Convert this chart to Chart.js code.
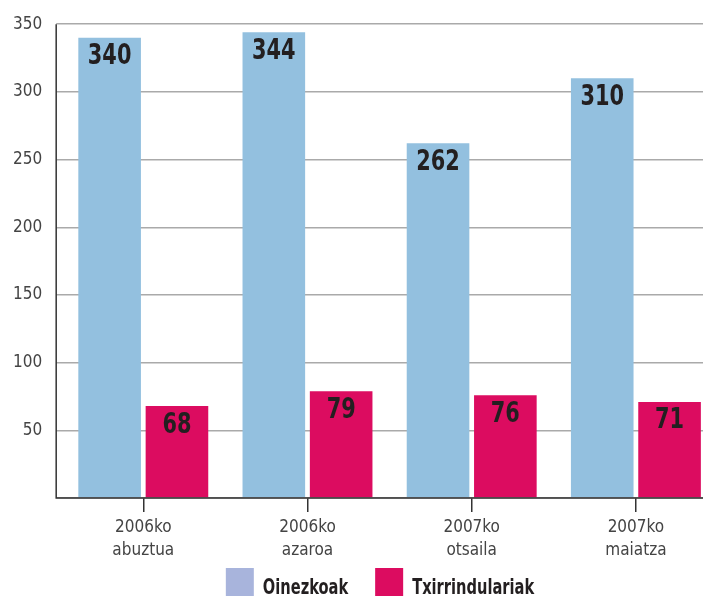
<!DOCTYPE html>
<html>
<head>
<meta charset="utf-8">
<script src="https://cdn.jsdelivr.net/npm/chart.js@4"></script>
<style>
html,body{margin:0;padding:0;background:#fff;overflow:hidden;}
#wrap{width:722px;height:596px;}
</style>
</head>
<body>
<div id="wrap"><canvas id="c" width="722" height="596"></canvas></div>
<script>
const categories = [['2006ko','abuztua'], ['2006ko','azaroa'], ['2007ko','otsaila'], ['2007ko','maiatza']];
const seriesNames = ['Oinezkoak', 'Txirrindulariak'];
const oinezkoak = [340, 344, 262, 310];
const txirrindulariak = [68, 79, 76, 71];
const yTicks = [0, 50, 100, 150, 200, 250, 300, 350];

const FONT = "'Liberation Sans Narrow', 'DejaVu Sans Condensed', 'DejaVu Sans', sans-serif";
const barColors = ['#93c0df', '#dc0c60'];
const legendColors = ['#a8b4dc', '#dc0c60'];
const TEXT_DARK = '#231f20';
const AXIS_COLOR = '#333';
const Y_TICK_LEN = 5;

// axis lines: y axis sits at the outer end of the y tick marks
const axisLines = {
  id: 'axisLines',
  afterDatasetsDraw(chart) {
    const { ctx, chartArea } = chart;
    const x0 = chartArea.left - Y_TICK_LEN;
    ctx.save();
    ctx.strokeStyle = AXIS_COLOR;
    ctx.lineWidth = 1.5;
    ctx.beginPath();
    ctx.moveTo(x0, chartArea.top);
    ctx.lineTo(x0, chartArea.bottom);
    ctx.lineTo(chartArea.right, chartArea.bottom);
    ctx.stroke();
    ctx.restore();
  }
};

// value labels inside the top of each bar (condensed bold)
const valueLabels = {
  id: 'valueLabels',
  afterDatasetsDraw(chart) {
    const ctx = chart.ctx;
    chart.data.datasets.forEach((ds, i) => {
      chart.getDatasetMeta(i).data.forEach((bar, j) => {
        ctx.save();
        ctx.font = 'bold 29px ' + FONT;
        ctx.fillStyle = TEXT_DARK;
        ctx.textAlign = 'center';
        ctx.textBaseline = 'middle';
        ctx.translate(bar.x, bar.y + 19);
        ctx.scale(0.8, 1);
        ctx.fillText(String(ds.data[j]), 0, 0);
        ctx.restore();
      });
    });
  }
};

// legend drawn below the axis labels
const bottomLegend = {
  id: 'bottomLegend',
  afterDraw(chart) {
    const ctx = chart.ctx;
    const box = 28, gapText = 9, gapItem = 27, sx = 0.74;
    ctx.save();
    ctx.font = 'bold 22px ' + FONT;
    const widths = seriesNames.map(n => ctx.measureText(n).width * sx);
    const total = widths.reduce((a, w) => a + box + gapText + w, 0) + gapItem * (seriesNames.length - 1);
    let x = 380 - total / 2;
    const top = 568;
    seriesNames.forEach((name, i) => {
      ctx.fillStyle = legendColors[i];
      ctx.fillRect(x, top, box, box);
      x += box + gapText;
      ctx.save();
      ctx.translate(x, 594);
      ctx.scale(sx, 1);
      ctx.fillStyle = TEXT_DARK;
      ctx.textAlign = 'left';
      ctx.textBaseline = 'alphabetic';
      ctx.fillText(name, 0, 0);
      ctx.restore();
      x += widths[i] + gapItem;
    });
    ctx.restore();
  }
};

new Chart(document.getElementById('c'), {
  type: 'bar',
  data: {
    labels: categories,
    datasets: [
      { label: seriesNames[0], data: oinezkoak, backgroundColor: barColors[0], barPercentage: 0.93, categoryPercentage: 0.82 },
      { label: seriesNames[1], data: txirrindulariak, backgroundColor: barColors[1], barPercentage: 0.93, categoryPercentage: 0.82 }
    ]
  },
  options: {
    responsive: false,
    animation: false,
    events: [],
    layout: { padding: { top: 22, right: 4, left: -1, bottom: 30 } },
    plugins: {
      tooltip: { enabled: false },
      legend: { display: false }
    },
    scales: {
      x: {
        offset: true,
        grid: { offset: false, drawOnChartArea: false, drawTicks: true, tickLength: 14, color: AXIS_COLOR, lineWidth: 1.5 },
        border: { display: false },
        ticks: { color: '#444', font: { family: FONT, size: 17, lineHeight: 1.35 }, padding: 4, maxRotation: 0 }
      },
      y: {
        min: 0,
        max: 350,
        afterBuildTicks(scale) { scale.ticks = yTicks.map(v => ({ value: v })); },
        grid: { color: '#aaa', lineWidth: 1.5, drawTicks: true, tickLength: Y_TICK_LEN },
        border: { display: false },
        ticks: {
          color: '#444',
          padding: 14,
          font: { family: FONT, size: 17 },
          callback(v) { return v === 0 ? '' : v; }
        }
      }
    }
  },
  plugins: [valueLabels, axisLines, bottomLegend]
});
</script>
</body>
</html>
